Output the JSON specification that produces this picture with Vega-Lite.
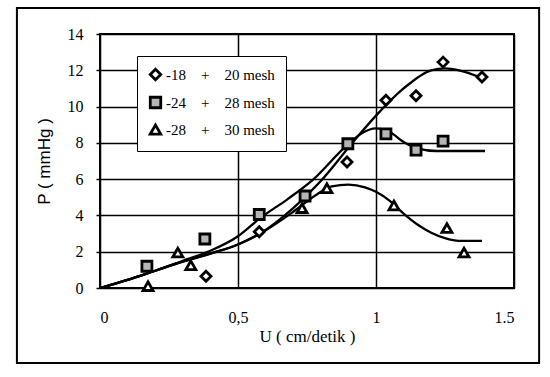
{
  "$schema": "https://vega.github.io/schema/vega-lite/v6.json",
  "width": 414,
  "height": 254,
  "autosize": "none",
  "padding": {"left": 100, "top": 34, "right": 36, "bottom": 89},
  "background": "white",
  "datasets": {
    "points": [
      {"series": "-18 + 20 mesh", "u": 0.384, "p": 0.65},
      {"series": "-18 + 20 mesh", "u": 0.577, "p": 3.1},
      {"series": "-18 + 20 mesh", "u": 0.895, "p": 6.95},
      {"series": "-18 + 20 mesh", "u": 1.036, "p": 10.35},
      {"series": "-18 + 20 mesh", "u": 1.145, "p": 10.6},
      {"series": "-18 + 20 mesh", "u": 1.243, "p": 12.45},
      {"series": "-18 + 20 mesh", "u": 1.384, "p": 11.63},
      {"series": "-24 + 28 mesh", "u": 0.17, "p": 1.2},
      {"series": "-24 + 28 mesh", "u": 0.38, "p": 2.7},
      {"series": "-24 + 28 mesh", "u": 0.577, "p": 4.05},
      {"series": "-24 + 28 mesh", "u": 0.743, "p": 5.07},
      {"series": "-24 + 28 mesh", "u": 0.898, "p": 7.95},
      {"series": "-24 + 28 mesh", "u": 1.036, "p": 8.5},
      {"series": "-24 + 28 mesh", "u": 1.145, "p": 7.6},
      {"series": "-24 + 28 mesh", "u": 1.243, "p": 8.1},
      {"series": "-28 + 30 mesh", "u": 0.174, "p": 0.1},
      {"series": "-28 + 30 mesh", "u": 0.282, "p": 1.95},
      {"series": "-28 + 30 mesh", "u": 0.329, "p": 1.25},
      {"series": "-28 + 30 mesh", "u": 0.732, "p": 4.4},
      {"series": "-28 + 30 mesh", "u": 0.822, "p": 5.5},
      {"series": "-28 + 30 mesh", "u": 1.065, "p": 4.55},
      {"series": "-28 + 30 mesh", "u": 1.257, "p": 3.3},
      {"series": "-28 + 30 mesh", "u": 1.319, "p": 1.95}
    ],
    "curves": [
      {"series": "-18 + 20 mesh", "u": 0, "p": 0},
      {"series": "-18 + 20 mesh", "u": 0.1, "p": 0.45},
      {"series": "-18 + 20 mesh", "u": 0.2, "p": 0.95},
      {"series": "-18 + 20 mesh", "u": 0.3, "p": 1.45},
      {"series": "-18 + 20 mesh", "u": 0.4, "p": 1.9},
      {"series": "-18 + 20 mesh", "u": 0.5, "p": 2.4},
      {"series": "-18 + 20 mesh", "u": 0.58, "p": 3.0},
      {"series": "-18 + 20 mesh", "u": 0.7, "p": 4.4},
      {"series": "-18 + 20 mesh", "u": 0.8, "p": 5.9},
      {"series": "-18 + 20 mesh", "u": 0.92, "p": 8.1},
      {"series": "-18 + 20 mesh", "u": 1.0, "p": 9.5},
      {"series": "-18 + 20 mesh", "u": 1.1, "p": 11.0},
      {"series": "-18 + 20 mesh", "u": 1.2, "p": 12.0},
      {"series": "-18 + 20 mesh", "u": 1.25, "p": 12.1},
      {"series": "-18 + 20 mesh", "u": 1.3, "p": 12.0},
      {"series": "-18 + 20 mesh", "u": 1.38, "p": 11.6},
      {"series": "-24 + 28 mesh", "u": 0, "p": 0},
      {"series": "-24 + 28 mesh", "u": 0.1, "p": 0.45},
      {"series": "-24 + 28 mesh", "u": 0.2, "p": 0.95},
      {"series": "-24 + 28 mesh", "u": 0.3, "p": 1.5},
      {"series": "-24 + 28 mesh", "u": 0.4, "p": 2.05},
      {"series": "-24 + 28 mesh", "u": 0.5, "p": 2.85},
      {"series": "-24 + 28 mesh", "u": 0.58, "p": 3.85},
      {"series": "-24 + 28 mesh", "u": 0.68, "p": 4.9},
      {"series": "-24 + 28 mesh", "u": 0.77, "p": 5.95},
      {"series": "-24 + 28 mesh", "u": 0.9, "p": 7.95},
      {"series": "-24 + 28 mesh", "u": 0.95, "p": 8.55},
      {"series": "-24 + 28 mesh", "u": 1.0, "p": 8.8},
      {"series": "-24 + 28 mesh", "u": 1.05, "p": 8.6},
      {"series": "-24 + 28 mesh", "u": 1.1, "p": 8.05},
      {"series": "-24 + 28 mesh", "u": 1.15, "p": 7.7},
      {"series": "-24 + 28 mesh", "u": 1.22, "p": 7.55},
      {"series": "-24 + 28 mesh", "u": 1.395, "p": 7.55},
      {"series": "-28 + 30 mesh", "u": 0, "p": 0},
      {"series": "-28 + 30 mesh", "u": 0.1, "p": 0.45},
      {"series": "-28 + 30 mesh", "u": 0.2, "p": 0.95},
      {"series": "-28 + 30 mesh", "u": 0.3, "p": 1.45},
      {"series": "-28 + 30 mesh", "u": 0.4, "p": 1.9},
      {"series": "-28 + 30 mesh", "u": 0.5, "p": 2.4},
      {"series": "-28 + 30 mesh", "u": 0.58, "p": 3.0},
      {"series": "-28 + 30 mesh", "u": 0.7, "p": 4.2},
      {"series": "-28 + 30 mesh", "u": 0.78, "p": 5.1},
      {"series": "-28 + 30 mesh", "u": 0.84, "p": 5.6},
      {"series": "-28 + 30 mesh", "u": 0.9, "p": 5.7},
      {"series": "-28 + 30 mesh", "u": 0.96, "p": 5.55},
      {"series": "-28 + 30 mesh", "u": 1.0, "p": 5.3},
      {"series": "-28 + 30 mesh", "u": 1.05, "p": 4.8},
      {"series": "-28 + 30 mesh", "u": 1.1, "p": 4.1},
      {"series": "-28 + 30 mesh", "u": 1.15, "p": 3.5},
      {"series": "-28 + 30 mesh", "u": 1.2, "p": 3.05},
      {"series": "-28 + 30 mesh", "u": 1.25, "p": 2.75},
      {"series": "-28 + 30 mesh", "u": 1.3, "p": 2.6},
      {"series": "-28 + 30 mesh", "u": 1.384, "p": 2.6}
    ]
  },
  "layer": [
    {
      "data": {"values": [{"frame": "outer"}]},
      "mark": {"type": "rect", "fill": null, "stroke": "black", "strokeWidth": 2, "clip": false},
      "encoding": {
        "x": {"datum": -0.301, "type": "quantitative"},
        "x2": {"datum": 1.591},
        "y": {"datum": 15.43, "type": "quantitative"},
        "y2": {"datum": -4.13}
      }
    },
    {
      "data": {"name": "curves"},
      "mark": {"type": "line", "color": "black", "strokeWidth": 2.3, "interpolate": "monotone"},
      "encoding": {
        "x": {"field": "u", "type": "quantitative"},
        "y": {"field": "p", "type": "quantitative"},
        "detail": {"field": "series"}
      }
    },
    {
      "data": {"name": "points"},
      "mark": {"type": "point", "filled": true, "stroke": "black", "strokeWidth": 2.8, "size": 100, "opacity": 1},
      "encoding": {
        "x": {"field": "u", "type": "quantitative"},
        "y": {"field": "p", "type": "quantitative"},
        "shape": {
          "field": "series", "type": "nominal",
          "scale": {"domain": ["-18 + 20 mesh", "-24 + 28 mesh", "-28 + 30 mesh"], "range": ["diamond", "square", "triangle-up"]},
          "legend": {
            "title": null,
            "orient": "none",
            "legendX": 37,
            "legendY": 22,
            "padding": 11,
            "strokeColor": "black",
            "fillColor": "white",
            "rowPadding": 5,
            "labelFont": "Liberation Serif",
            "labelFontSize": 15,
            "labelColor": "black",
            "labelOffset": 3,
            "symbolSize": 110,
            "symbolStrokeWidth": 2.8,
            "labelExpr": "replace(datum.label, ' + ', '\u2002\u2002+\u2002\u2002')",
            "encode": {
              "legend": {"update": {"strokeWidth": {"value": 2.5}}},
              "symbols": {"update": {"stroke": {"value": "black"}, "strokeWidth": {"value": 2.8}, "opacity": {"value": 1}}},
              "labels": {"update": {"fill": {"value": "black"}}}
            }
          }
        },
        "fill": {
          "field": "series", "type": "nominal",
          "scale": {"domain": ["-18 + 20 mesh", "-24 + 28 mesh", "-28 + 30 mesh"], "range": ["white", "#b5b5b5", "white"]}
        }
      }
    }
  ],
  "encoding": {
    "x": {
      "type": "quantitative",
      "scale": {"domain": [0, 1.5], "nice": false, "zero": false},
      "axis": {
        "title": "U ( cm/detik )",
        "values": [0, 0.5, 1, 1.5],
        "labelExpr": "datum.value == 0 ? '0' : datum.value == 0.5 ? '0,5' : datum.value == 1 ? '1' : '1.5'",
        "grid": true,
        "ticks": false,
        "domain": false,
        "labelPadding": 21,
        "labelFont": "Liberation Serif",
        "labelFontSize": 16,
        "titleFont": "Liberation Serif",
        "titleFontSize": 17,
        "titleFontWeight": "normal",
        "titlePadding": 3
      }
    },
    "y": {
      "type": "quantitative",
      "scale": {"domain": [0, 14], "nice": false},
      "axis": {
        "title": "P ( mmHg )",
        "values": [0, 2, 4, 6, 8, 10, 12, 14],
        "grid": true,
        "ticks": true,
        "tickSize": 4,
        "tickColor": "black",
        "tickWidth": 1.5,
        "domain": false,
        "labelPadding": 13,
        "labelFont": "Liberation Serif",
        "labelFontSize": 16,
        "titleFont": "Liberation Sans",
        "titleFontSize": 17,
        "titleFontWeight": "normal",
        "titlePadding": 14
      }
    }
  },
  "config": {
    "view": {"stroke": "black", "strokeWidth": 2},
    "axis": {"gridColor": "black", "gridWidth": 1.5, "gridOpacity": 1, "labelColor": "black", "titleColor": "black"}
  }
}
